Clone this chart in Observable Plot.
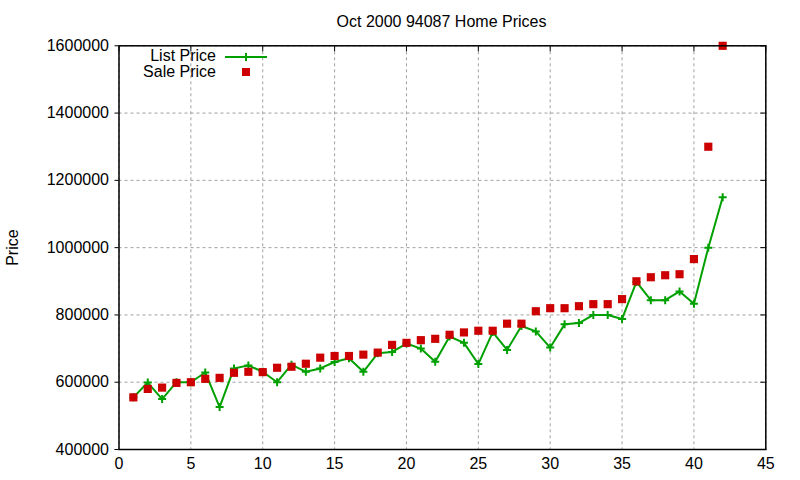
<!DOCTYPE html>
<html>
<head>
<meta charset="utf-8">
<script src="https://cdn.jsdelivr.net/npm/d3@7"></script>
<script src="https://cdn.jsdelivr.net/npm/@observablehq/plot@0.6"></script>
<style>
  body { margin: 0; background: #fff; }
  #wrap { position: relative; width: 800px; height: 480px; font-family: "Liberation Sans", Arial, sans-serif; color: #000; }
  .ov { position: absolute; font-size: 16px; line-height: 14px; white-space: nowrap; }
  #title { left: 118px; width: 647px; text-align: center; top: 15px; }
  #legend { right: 584px; top: 47.5px; text-align: right; line-height: 16px; }
  #legsvg { position: absolute; left: 0; top: 0; pointer-events: none; }
</style>
</head>
<body>
<div id="wrap">
  <div id="title" class="ov"></div>
  <div id="legend" class="ov"></div>
</div>
<script>
const titleText = "Oct 2000 94087 Home Prices";
const yLabel = "Price";
const seriesNames = ["List Price", "Sale Price"];
const homeIndex = [1,2,3,4,5,6,7,8,9,10,11,12,13,14,15,16,17,18,19,20,21,22,23,24,25,26,27,28,29,30,31,32,33,34,35,36,37,38,39,40,41,42];
const listPrice = [555000,599000,550000,600000,600000,629000,526000,641000,650000,631000,
                   600000,652000,631000,641000,660000,671000,631000,686000,690000,715000,
                   700000,661000,736000,717000,654000,749000,696000,767000,751000,703000,
                   772000,776000,800000,800000,788000,898000,844000,844000,870000,833000,
                   1000000,1150000];
const salePrice = [555000,580000,584000,598000,600000,610000,613000,628000,631000,630000,
                   643000,646000,655000,673000,678000,678000,682000,688000,711000,717000,
                   725000,729000,741000,748000,753000,753000,774000,774000,811000,820000,
                   820000,826000,832000,832000,847000,900000,912000,918000,921000,966000,
                   1300000,1600000];
const xTicks = [0,5,10,15,20,25,30,35,40,45];
const yTicks = [400000,600000,800000,1000000,1200000,1400000,1600000];

const green = "#00a000";
const red = "#cc0000";

const listData = homeIndex.map((x, i) => ({x, y: listPrice[i]}));
const saleData = homeIndex.map((x, i) => ({x, y: salePrice[i]}));

const grid = {stroke: "#a0a0a0", strokeOpacity: 1, strokeDasharray: "3,3", strokeWidth: 1};

const chart = Plot.plot({
  width: 800,
  height: 480,
  marginLeft: 118.5,
  marginRight: 34.7,
  marginTop: 45.3,
  marginBottom: 31,
  style: {fontFamily: '"Liberation Sans", Arial, sans-serif', fontSize: "16px", background: "#fff", color: "#000"},
  x: {domain: [0, 45]},
  y: {domain: [400000, 1600000]},
  marks: [
    Plot.gridX(xTicks, grid),
    Plot.gridY(yTicks, grid),
    Plot.axisX(xTicks, {tickSize: 0, tickPadding: 8, label: null}),
    Plot.axisX(xTicks, {anchor: "top", tickSize: -5, tickFormat: () => "", label: null}),
    Plot.axisY(yTicks, {tickSize: 4, tickPadding: 6, tickFormat: d3.format("d"), label: yLabel,
      labelAnchor: "center", labelArrow: "none", labelOffset: 112}),
    Plot.axisY(yTicks, {anchor: "right", tickSize: -6, tickFormat: () => "", label: null}),
    Plot.line(listData, {x: "x", y: "y", stroke: green, strokeWidth: 2}),
    Plot.dot(listData, {x: "x", y: "y", symbol: "plus", r: 2.7, stroke: green, strokeWidth: 2}),
    Plot.dot(saleData, {x: "x", y: "y", symbol: "square", r: 4.6, fill: red, stroke: "none"}),
    Plot.frame({stroke: "#000", strokeWidth: 1.5})
  ]
});
const wrap = document.getElementById("wrap");
wrap.insertBefore(chart, wrap.firstChild);
document.getElementById("title").textContent = titleText;

// legend (overlay)
const lg = document.getElementById("legend");
lg.appendChild(document.createTextNode(seriesNames[0]));
lg.appendChild(document.createElement("br"));
lg.appendChild(document.createTextNode(seriesNames[1]));

const ns = "http://www.w3.org/2000/svg";
const svg = document.createElementNS(ns, "svg");
svg.setAttribute("id", "legsvg"); svg.setAttribute("width", 800); svg.setAttribute("height", 480);
function el(tag, attrs) { const e = document.createElementNS(ns, tag); for (const k in attrs) e.setAttribute(k, attrs[k]); svg.appendChild(e); return e; }
el("line", {x1: 225, y1: 57, x2: 267, y2: 57, stroke: green, "stroke-width": 2});
el("path", {d: "M242,57h8M246,53v8", stroke: green, "stroke-width": 2, fill: "none"});
el("rect", {x: 242, y: 68, width: 8, height: 8, fill: red});
wrap.appendChild(svg);
</script>
</body>
</html>
